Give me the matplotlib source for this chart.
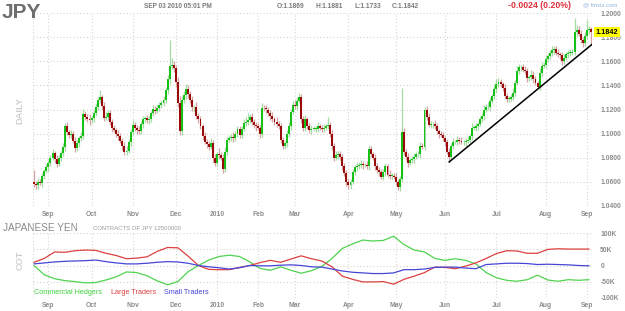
import numpy as np
import matplotlib
matplotlib.use("Agg")
import matplotlib.pyplot as plt
import matplotlib.transforms as mtransforms

plt.rcParams["font.family"] = ["Liberation Sans", "DejaVu Sans"]

# daily closes, Aug 21 2009 .. Sep 03 2010 (one value per bar)
close = [
    1.0580, 1.0570, 1.0600, 1.0590, 1.0650, 1.0690, 1.0720, 1.0760, 1.0800, 1.0840,
    1.0790, 1.0750, 1.0800, 1.0840, 1.0890, 1.1060, 1.1010, 1.0990, 1.0995, 1.0940,
    1.0880, 1.0920, 1.0960, 1.0980, 1.1160, 1.1140, 1.1120, 1.1110, 1.1130, 1.1170,
    1.1220, 1.1280, 1.1300, 1.1230, 1.1130, 1.1140, 1.1170, 1.1100, 1.1050, 1.1030,
    1.1000, 1.0980, 1.0940, 1.0900, 1.0850, 1.0860, 1.0930, 1.1010, 1.1070, 1.1050,
    1.1030, 1.1020, 1.1080, 1.1120, 1.1130, 1.1110, 1.1120, 1.1170, 1.1200, 1.1190,
    1.1210, 1.1240, 1.1250, 1.1280, 1.1360, 1.1450, 1.1560, 1.1570, 1.1540, 1.1430,
    1.1250, 1.1020, 1.1280, 1.1320, 1.1370, 1.1330, 1.1280, 1.1220, 1.1220, 1.1150,
    1.1120, 1.1060, 1.0980, 1.0930, 1.0910, 1.0890, 1.0920, 1.0800, 1.0760, 1.0830,
    1.0820, 1.0800, 1.0710, 1.0850, 1.0950, 1.0960, 1.0970, 1.0960, 1.1000, 1.1035,
    1.0990, 1.1040, 1.1090, 1.1100, 1.1110, 1.1140, 1.1100, 1.1070, 1.1060, 1.1050,
    1.0995, 1.1215, 1.1210, 1.1200, 1.1170, 1.1150, 1.1120, 1.1100, 1.1080, 1.1060,
    1.0950, 1.0895, 1.0920, 1.1000, 1.1060, 1.1180, 1.1240, 1.1230, 1.1270, 1.1300,
    1.1120, 1.1050, 1.1120, 1.1060, 1.1030, 1.1040, 1.1040, 1.1040, 1.1060, 1.1050,
    1.1040, 1.1050, 1.1060, 1.1075, 1.1000, 1.0900, 1.0800, 1.0820, 1.0830, 1.0810,
    1.0730, 1.0670, 1.0600, 1.0570, 1.0600, 1.0680, 1.0720, 1.0730, 1.0740, 1.0750,
    1.0740, 1.0740, 1.0730, 1.0870, 1.0830, 1.0800, 1.0730, 1.0700, 1.0680, 1.0640,
    1.0680, 1.0730, 1.0660, 1.0650, 1.0650, 1.0640, 1.0600, 1.0555, 1.0620, 1.1010,
    1.0850, 1.0810, 1.0760, 1.0780, 1.0790, 1.0810, 1.0830, 1.0830, 1.0895, 1.0890,
    1.1200, 1.1140, 1.1075, 1.1080, 1.1080, 1.1060, 1.1020, 1.0995, 1.0990, 1.0960,
    1.0930, 1.0850, 1.0810, 1.0900, 1.0930, 1.0930, 1.0950, 1.0940, 1.0930, 1.0930,
    1.0940, 1.0950, 1.0980, 1.1050, 1.1050, 1.1060, 1.1080, 1.1120, 1.1145, 1.1200,
    1.1220, 1.1220, 1.1270, 1.1310, 1.1370, 1.1410, 1.1430, 1.1410, 1.1380, 1.1310,
    1.1290, 1.1290, 1.1300, 1.1340, 1.1420, 1.1520, 1.1550, 1.1550, 1.1530, 1.1520,
    1.1460, 1.1470, 1.1490, 1.1450, 1.1420, 1.1390, 1.1500, 1.1560, 1.1570, 1.1620,
    1.1640, 1.1670, 1.1690, 1.1700, 1.1670, 1.1660, 1.1650, 1.1600, 1.1630, 1.1660,
    1.1670, 1.1670, 1.1680, 1.1840, 1.1860, 1.1830, 1.1780, 1.1750, 1.1810, 1.1860,
    1.1866, 1.1842,
]
first_open = 1.0600

# wick lengths beyond the body, in pips
up_wick = [
    100, 25, 30, 20, 25, 15, 30, 20, 25, 35,
    20, 30, 25, 20, 30, 25, 40, 20, 35, 25,
    30, 25, 20, 35, 45, 30, 25, 40, 20, 30,
    35, 25, 60, 20, 30, 40, 25, 30, 20, 25,
    20, 30, 25, 20, 30, 35, 25, 30, 40, 25,
    20, 35, 25, 30, 20, 25, 30, 20, 35, 25,
    30, 20, 25, 35, 30, 40, 220, 60, 35, 30,
    40, 60, 30, 35, 45, 30, 25, 30, 20, 40,
    25, 30, 20, 35, 25, 30, 40, 25, 30, 20,
    50, 25, 30, 35, 20, 30, 25, 40, 20, 30,
    25, 20, 30, 35, 60, 25, 30, 20, 25, 30,
    20, 40, 25, 30, 20, 25, 30, 20, 35, 25,
    30, 25, 20, 30, 35, 25, 30, 40, 35, 40,
    30, 25, 35, 20, 25, 30, 20, 25, 35, 20,
    25, 30, 20, 60, 25, 30, 20, 35, 25, 30,
    20, 25, 30, 20, 25, 30, 20, 35, 25, 30,
    25, 20, 30, 35, 25, 20, 30, 25, 20, 30,
    25, 30, 20, 35, 25, 20, 30, 25, 30, 365,
    40, 25, 30, 20, 25, 30, 20, 25, 35, 25,
    20, 30, 35, 25, 20, 30, 25, 20, 30, 25,
    20, 25, 30, 25, 35, 20, 30, 25, 35, 20,
    25, 30, 20, 35, 25, 30, 20, 25, 30, 35,
    25, 40, 30, 20, 35, 40, 30, 25, 20, 30,
    25, 20, 30, 35, 25, 40, 30, 20, 25, 30,
    25, 20, 35, 30, 25, 20, 40, 30, 25, 35,
    30, 25, 40, 30, 25, 30, 20, 25, 30, 20,
    25, 30, 20, 120, 40, 30, 25, 20, 35, 85,
    25, 15,
]
dn_wick = [
    20, 30, 25, 20, 30, 25, 20, 30, 25, 20,
    30, 25, 20, 30, 25, 35, 20, 30, 25, 20,
    30, 25, 35, 20, 25, 30, 20, 35, 25, 30,
    20, 25, 30, 35, 25, 20, 30, 25, 35, 20,
    25, 30, 20, 35, 30, 25, 20, 30, 25, 30,
    35, 20, 25, 30, 20, 25, 30, 20, 25, 30,
    20, 25, 30, 20, 25, 30, 35, 25, 30, 40,
    30, 35, 30, 25, 30, 35, 25, 30, 40, 25,
    30, 25, 35, 20, 30, 25, 20, 35, 30, 25,
    30, 20, 35, 25, 30, 20, 25, 30, 20, 25,
    30, 25, 20, 30, 25, 20, 30, 25, 35, 20,
    30, 25, 20, 30, 25, 35, 20, 30, 25, 20,
    30, 25, 20, 35, 25, 30, 20, 25, 30, 20,
    35, 25, 30, 20, 25, 30, 20, 25, 30, 20,
    25, 30, 20, 25, 30, 35, 25, 20, 30, 25,
    30, 25, 35, 25, 30, 20, 25, 30, 20, 25,
    30, 20, 25, 30, 25, 20, 30, 25, 35, 20,
    25, 30, 20, 25, 30, 20, 25, 20, 30, 25,
    30, 25, 35, 20, 25, 30, 20, 25, 30, 20,
    25, 30, 20, 25, 30, 20, 25, 30, 20, 25,
    30, 20, 45, 25, 30, 20, 25, 30, 20, 25,
    30, 20, 25, 30, 20, 25, 30, 20, 25, 30,
    20, 25, 30, 20, 25, 30, 20, 25, 30, 20,
    25, 30, 20, 25, 30, 20, 25, 30, 20, 25,
    30, 20, 25, 30, 20, 15, 25, 30, 20, 25,
    30, 20, 25, 30, 20, 25, 30, 35, 25, 20,
    30, 25, 20, 25, 30, 20, 25, 30, 20, 25,
    30, 109,
]
trend_pivots = [202, 271]  # bars whose lows the trend line runs through

month_labels = ["Sep", "Oct", "Nov", "Dec", "2010", "Feb", "Mar", "Apr", "May", "Jun", "Jul", "Aug", "Sep"]
month_start = [7, 28, 48, 69, 89, 109, 127, 153, 176, 200, 225, 249, 269]

# weekly COT net positions (thousands of contracts)
cot_week_bar = list(range(0, 275, 5))
cot_commercial = [
    0, -29, -41, -47, -50, -54, -53, -45, -35, -20,
    -22, -32, -48, -60, -50, -19, 0, 17, 28, 32,
    28, 11, -9, -15, -4, -15, -24, -16, -3, 22,
    53, 67, 79, 76, 78, 91, 65, 48, 42, 22,
    16, 21, 16, 5, -22, -38, -46, -49, -44, -30,
    -45, -49, -44, -46, -44,
]
cot_large = [
    10, 22, 42, 41, 46, 48, 47, 38, 31, 21,
    23, 27, 44, 56, 55, 29, 0, -12, -13, -13,
    -6, 0, 9, 16, 10, 20, 30, 21, 14, -4,
    -33, -43, -51, -51, -50, -58, -43, -33, -22, -5,
    -6, -10, -2, 8, 22, 37, 46, 45, 38, 38,
    50, 52, 51, 51, 51,
]
cot_small = [
    5, 8, 11, 13, 14, 15, 17, 12, 8, 5,
    5, 7, 10, 12, 11, 7, 0, -4, -7, -11,
    -7, 0, -1, -1, 1, 2, 0, -4, -5, -11,
    -17, -21, -23, -25, -25, -23, -13, -13, -11, -6,
    -5, -5, -8, -10, 3, 5, 7, 7, 6, 3,
    4, 3, 2, 0, -1,
]

W, H = 625, 311
GRID = "#d9d4cf"
LABEL = "#8c8c8c"


def fx(px):
    return px / W


def fy(py):
    return 1 - py / H


fig = plt.figure(figsize=(W / 100, H / 100), dpi=100)
fig.patch.set_facecolor("white")
ax = fig.add_axes([fx(33), fy(206), fx(592) - fx(33), fy(13) - fy(206)])
ax2 = fig.add_axes([fx(33), fy(297.7), fx(592) - fx(33), fy(233.3) - fy(297.7)])

# --- candles ---
c = np.array(close)
o = np.r_[first_open, c[:-1]]
hi = np.maximum(o, c) + np.array(up_wick) * 1e-4
lo = np.minimum(o, c) - np.array(dn_wick) * 1e-4
x = np.arange(len(c))
up = c >= o
body = c - o
body = np.where(np.abs(body) < 3e-4, np.where(up, 3e-4, -3e-4), body)

ax.vlines(x, lo, hi, colors=np.where(up, "#a6dba6", "#d7a3a3"), linewidth=0.9, zorder=2)
ax.bar(x, body, bottom=o, width=0.95, color=np.where(up, "#16c016", "#9a0b0b"),
       linewidth=0, zorder=3)

# trend line through two pivot lows, extended to the last bar
p0, p1 = trend_pivots
slope = (lo[p1] - lo[p0]) / (p1 - p0)
tx = np.array([p0, x[-1] + 0.6])
ax.plot(tx, lo[p0] + slope * (tx - p0), color="black", lw=1.1, zorder=4)

# --- COT lines ---
ax2.plot(cot_week_bar, cot_commercial, color="#4fd34f", lw=0.9)
ax2.plot(cot_week_bar, cot_large, color="#dd4040", lw=0.9)
ax2.plot(cot_week_bar, cot_small, color="#4646d6", lw=0.9)

for a in (ax, ax2):
    a.set_xlim(-0.5, len(c) - 0.5)
    for s in a.spines.values():
        s.set_visible(False)
    a.set_xticks(month_start)
    a.set_xticklabels(month_labels)
    a.yaxis.tick_right()
    a.tick_params(length=0, labelsize=4.9, labelcolor=LABEL, pad=3)
    for t in a.get_xticklabels() + a.get_yticklabels():
        t.set_fontweight("bold")
    a.grid(True, ls=(0, (1, 2)), color=GRID, lw=0.8)
    a.axvline(-0.5, ls=(0, (1, 2)), color=GRID, lw=0.8)
    a.axvline(len(c) - 0.5, ls=(0, (1, 2)), color=GRID, lw=0.8)
    a.set_axisbelow(True)

ax.set_ylim(1.04, 1.2)
ax.set_yticks(np.arange(1.04, 1.2001, 0.02))
ax.set_yticklabels([f"{v:.4f}" for v in np.arange(1.04, 1.2001, 0.02)])
ax.tick_params(axis="y", pad=6)
ax.tick_params(axis="x", pad=3.5)

ax2.set_ylim(-100, 100)
ax2.set_yticks([-100, -50, 0, 50, 100])
ax2.set_yticklabels(["-100K", "-50K", "0", "50K", "100K"])
ax2.tick_params(axis="y", pad=6)
ax2.tick_params(axis="x", pad=3)

# last price tag
trans = mtransforms.blended_transform_factory(ax.transAxes, ax.transData)
ax.text(1.006, c[-1], f"{c[-1]:.4f}", transform=trans, ha="left", va="center",
        fontsize=5.2, fontweight="bold", color="black", zorder=10,
        bbox=dict(boxstyle="square,pad=0.25", fc="#ffff00", ec="none"))

# --- header and labels ---
fig.text(fx(2), fy(12), "JPY", fontsize=15, fontweight="bold", color="#6e6e6e", va="center")
fig.text(fx(144), fy(6), "SEP 03 2010 05:01 PM", fontsize=4.7, fontweight="bold", color="#7a7a7a", va="center")
for px, s in [(277, "O:1.1869"), (315, "H:1.1881"), (355, "L:1.1733"), (392, "C:1.1842")]:
    fig.text(fx(px), fy(6), s, fontsize=4.8, fontweight="bold", color="#7a7a7a", va="center")
fig.text(fx(508), fy(6), "-0.0024 (0.20%)", fontsize=6.3, fontweight="bold", color="#e0303a", va="center")
fig.text(fx(583), fy(5), "@ finviz.com", fontsize=4.3, color="#8fb3d9", va="center")

fig.text(fx(20), fy(111), "DAILY", fontsize=6.7, fontweight="bold", color="#d0d0d0",
         rotation=90, ha="center", va="center")
fig.text(fx(20), fy(260), "COT", fontsize=6.7, fontweight="bold", color="#d0d0d0",
         rotation=90, ha="center", va="center")
fig.text(fx(3), fy(228), "JAPANESE YEN", fontsize=7.2, color="#8a8a8a", va="center")
fig.text(fx(93), fy(228), "CONTRACTS OF JPY 12500000", fontsize=4.3, color="#9a9a9a", va="center")

for px, s, col in [(34, "Commercial Hedgers", "#3fcf3f"), (111, "Large Traders", "#dd4040"),
                   (164, "Small Traders", "#4646d6")]:
    fig.text(fx(px), fy(293), s, fontsize=5.2, color=col, va="center")

fig.savefig("out.png", dpi=100)
